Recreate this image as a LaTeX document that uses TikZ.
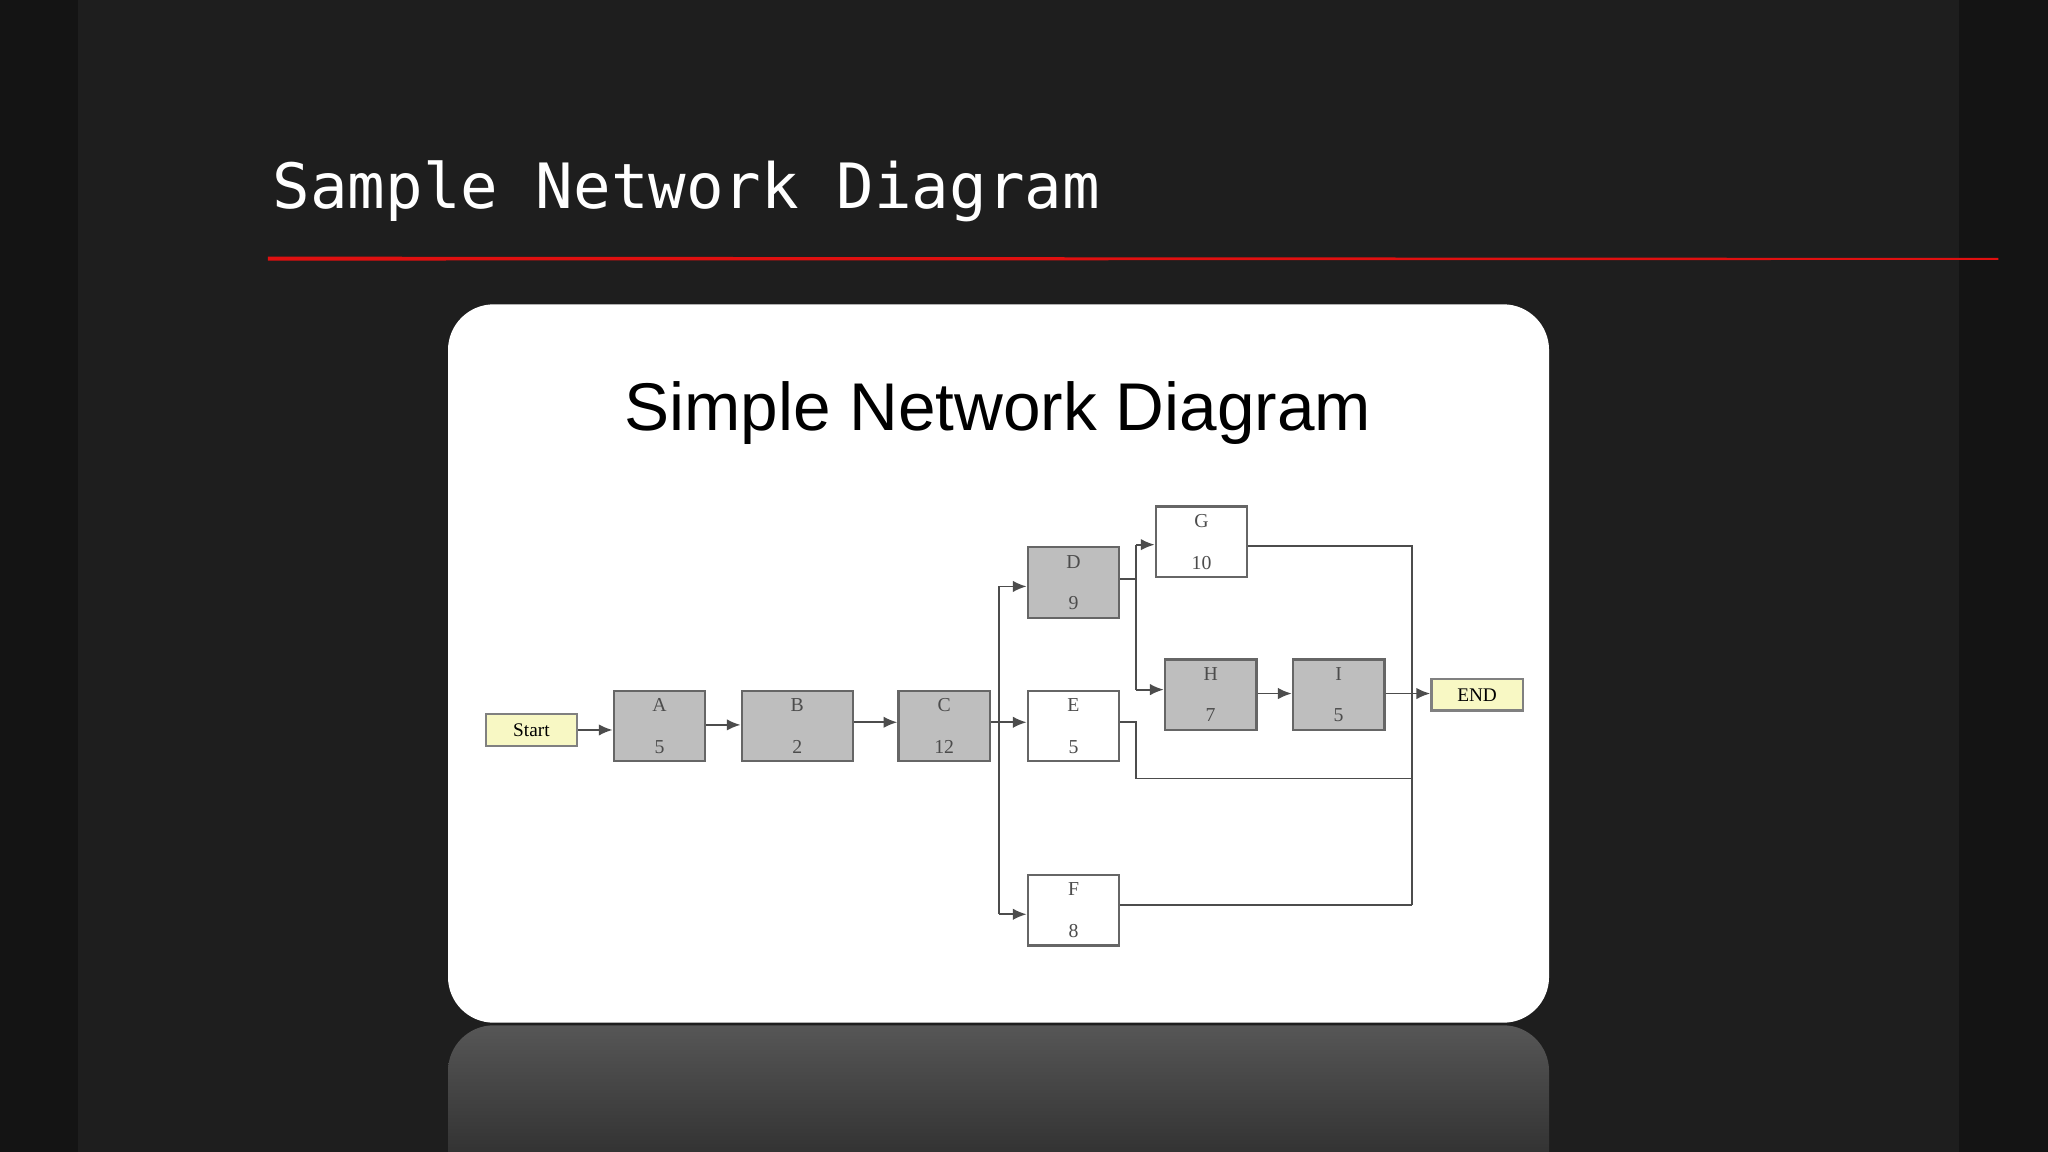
\documentclass[tikz,border=0pt]{standalone}
\usepackage{fontspec}
\setmainfont{Liberation Serif}
\newfontfamily\monof{DejaVu Sans Mono}
\newfontfamily\arialf{Liberation Sans}
\usetikzlibrary{arrows.meta}
\definecolor{bg}{HTML}{1E1E1E}
\definecolor{boxgray}{HTML}{BEBEBE}
\definecolor{boxyel}{HTML}{F8F8C4}
\definecolor{redl}{HTML}{E01010}
\tikzset{
 act/.style={draw=black!60,line width=0.5pt,minimum width=0.70cm,minimum height=0.54cm,inner sep=0pt,anchor=north west},
 grayact/.style={act,fill=boxgray},
 whiteact/.style={act,fill=white},
 term/.style={draw=black!50,line width=0.5pt,fill=boxyel,minimum width=0.70cm,minimum height=0.24cm,inner sep=0pt,anchor=north west,font=\fontsize{4.2}{5}\selectfont},
 conn/.style={draw=black!70,line width=0.4pt},
 arr/.style={conn,-{Latex[length=3pt,width=2.5pt]}},
 lbl/.style={font=\fontsize{4.3}{5}\selectfont,text=black!70}
}
\begin{document}
\begin{tikzpicture}[x=0.01cm,y=-0.01cm]
\useasboundingbox (0,0) rectangle (1568,882);
\clip (0,0) rectangle (1568,882);
\fill[bg] (0,0) rectangle (1568,882);
\fill[black,opacity=0.3] (0,0) rectangle (60,882);
\fill[black,opacity=0.3] (1500,0) rectangle (1568,882);
\node[anchor=base west,text=white,inner sep=0pt,font=\monof\fontsize{13.6}{16}\selectfont] (title) at (208,160) {Sample Network Diagram};
\fill[redl] (205,196.5) -- (1530,197.5) -- (1530,199) -- (205,199.5) -- cycle;
% reflection
\shade[top color=white!25!bg,bottom color=bg,rounded corners=0.35cm] (343,785) rectangle (1186,940);
% panel
\fill[white,rounded corners=0.35cm] (343,233) rectangle (1186,783);
\node[font=\arialf\fontsize{14.7}{16}\selectfont,inner sep=0pt] (inner) at (764,316) {Simple Network Diagram};
% nodes
\node[term] (st) at (371,546) {Start};
\node[grayact] (A) at (469,528) {};
\node[grayact,minimum width=0.85cm] (B) at (567,528) {};
\node[grayact] (C) at (687,528) {};
\node[grayact] (D) at (786,418) {};
\node[whiteact] (E) at (786,528) {};
\node[whiteact] (F) at (786,669) {};
\node[whiteact] (G) at (884,387) {};
\node[grayact] (H) at (891,504) {};
\node[grayact] (I) at (989,504) {};
\node[term] (en) at (1095,519) {END};
\foreach \n/\a/\b in {A/A/5,B/B/2,C/C/12,D/D/9,E/E/5,F/F/8,G/G/10,H/H/7,I/I/5}{
 \node[lbl] at ([yshift=-0.12cm]\n.north) {\a};
 \node[lbl] at ([yshift=0.12cm]\n.south) {\b};
}
% connectors
\draw[arr] (st.east) -- (A.west|-st.east);
\draw[arr] (A.east|-0,555) -- (B.west|-0,555);
\draw[arr] (B.east|-0,553) -- (C.west|-0,553);
\coordinate (cb) at (765,553);
\draw[conn] (C.east|-cb) -- (cb);
\draw[arr] (765,449) -- (D.west|-0,449);
\draw[arr] (cb) -- (E.west|-cb);
\draw[conn] (765,449) -- (765,700);
\draw[arr] (765,700) -- (F.west|-0,700);
\draw[conn] (D.east|-0,443) -- (870,443);
\draw[conn] (870,417) -- (870,528);
\draw[arr] (870,417) -- (G.west|-0,417);
\draw[arr] (870,528) -- (H.west|-0,528);
\draw[arr] (H.east|-0,531) -- (I.west|-0,531);
\draw[arr] (I.east|-0,531) -- (en.west|-0,531);
\draw[conn] (G.east|-0,418) -- (1081,418) -- (1081,693);
\draw[conn] (E.east|-cb) -- (870,553) -- (870,596) -- (1081,596);
\draw[conn] (F.east|-0,693) -- (1081,693);
\end{tikzpicture}
\end{document}
